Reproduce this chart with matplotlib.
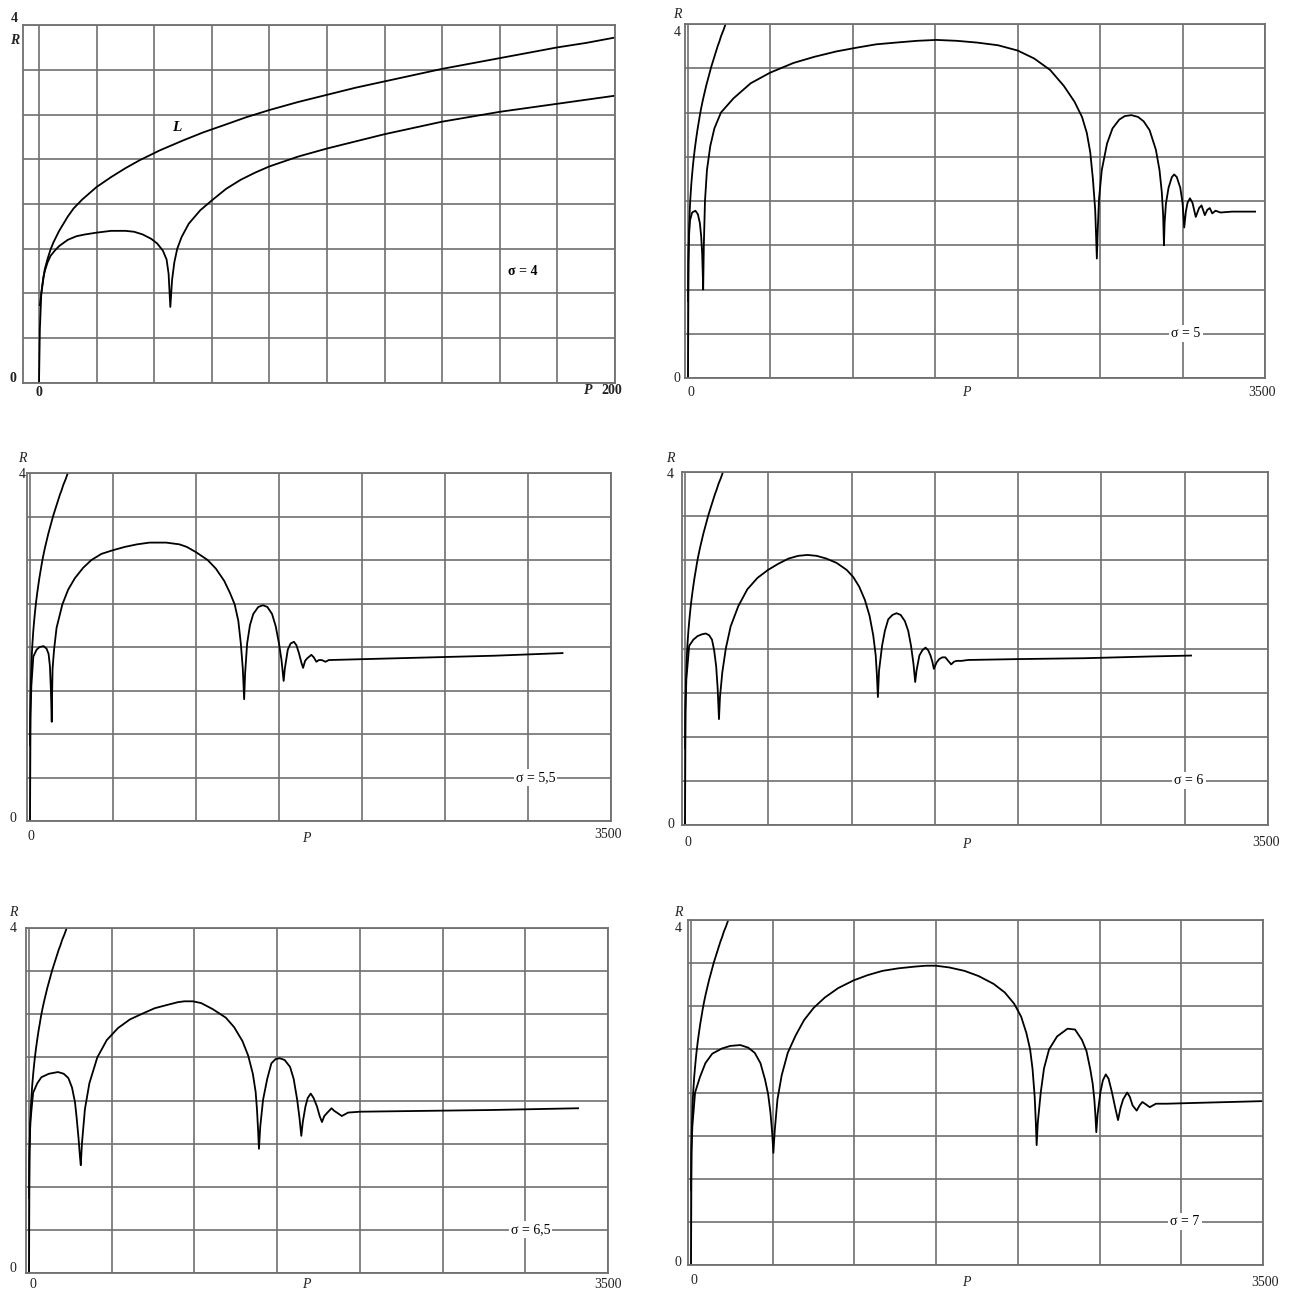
import numpy as np
import matplotlib.pyplot as plt

plt.rcParams['font.family'] = ['Liberation Serif', 'DejaVu Serif']

W, H = 1299, 1293

# curve L, the same in every panel (P, R)
curve_L = [(0.3, 0.87), (1, 1.05), (2, 1.27), (3, 1.39), (4, 1.49), (5, 1.57), (7, 1.70), (10, 1.86),
           (12, 1.95), (15, 2.05), (20, 2.19), (25, 2.30), (30, 2.40), (35, 2.49), (42, 2.60),
           (50, 2.71), (57, 2.80), (65, 2.89), (72, 2.97), (80, 3.05), (90, 3.14), (100, 3.22),
           (110, 3.30), (120, 3.37), (130, 3.44), (140, 3.51), (150, 3.57), (160, 3.63), (170, 3.69),
           (180, 3.75), (190, 3.80), (200, 3.86), (215, 3.93), (228, 4.0), (245, 4.07)]

# sigma = 4 (P up to 200)
curve_s4 = [(0, 0), (0.3, 0.6), (0.8, 1.0), (1.5, 1.18), (2, 1.25), (3, 1.35), (4, 1.42), (5.5, 1.48),
            (7, 1.53), (10, 1.60), (13, 1.64), (16, 1.66), (20, 1.68), (25, 1.70), (30, 1.70),
            (33, 1.69), (36, 1.66), (39, 1.61), (41, 1.56), (43, 1.48), (44.3, 1.38), (45, 1.22),
            (45.6, 0.85), (46.2, 1.15), (47, 1.35), (48, 1.5), (49.5, 1.63), (52, 1.78), (56, 1.93),
            (60, 2.04), (65, 2.17), (70, 2.27), (75, 2.35), (80, 2.42), (90, 2.53), (100, 2.62),
            (110, 2.70), (120, 2.78), (140, 2.92), (160, 3.03), (180, 3.12), (200, 3.21)]

curve_s5 = [(0, 0), (3, 1.3), (6, 1.6), (12, 1.78), (25, 1.87), (45, 1.89), (60, 1.85), (72, 1.75),
            (80, 1.60), (86, 1.40), (90, 1.15), (92, 1.0), (96, 1.5), (103, 2.0), (115, 2.35),
            (135, 2.62), (160, 2.82), (200, 3.0), (276, 3.16), (380, 3.33), (498, 3.45), (640, 3.56),
            (768, 3.63), (900, 3.69), (1015, 3.73), (1140, 3.77), (1261, 3.79), (1390, 3.81),
            (1507, 3.82), (1630, 3.81), (1754, 3.79), (1880, 3.76), (2000, 3.70), (2100, 3.61),
            (2197, 3.48), (2280, 3.30), (2345, 3.12), (2390, 2.95), (2419, 2.77), (2440, 2.55),
            (2456, 2.25), (2470, 1.9), (2480, 1.35), (2486, 1.7), (2493, 2.02), (2510, 2.35),
            (2542, 2.65), (2575, 2.82), (2616, 2.92), (2650, 2.96), (2690, 2.97), (2730, 2.95),
            (2764, 2.90), (2800, 2.80), (2838, 2.58), (2860, 2.35), (2874, 2.10), (2882, 1.85),
            (2887, 1.50), (2891, 1.75), (2899, 1.97), (2915, 2.15), (2935, 2.27), (2949, 2.30),
            (2965, 2.27), (2986, 2.15), (3000, 1.98), (3010, 1.70), (3020, 1.88), (3030, 1.98),
            (3045, 2.03), (3060, 1.98), (3080, 1.82), (3100, 1.92), (3115, 1.95), (3135, 1.84),
            (3150, 1.90), (3165, 1.92), (3180, 1.86), (3200, 1.89), (3230, 1.87), (3300, 1.88),
            (3440, 1.88)]

curve_s55 = [(0, 0), (3, 1.2), (8, 1.55), (20, 1.89), (40, 1.97), (58, 2.0), (82, 2.01), (100, 1.98),
             (112, 1.92), (120, 1.78), (126, 1.5), (131, 1.14), (133, 1.45), (136, 1.75), (145, 1.97),
             (160, 2.22), (195, 2.49), (230, 2.66), (270, 2.79), (320, 2.91), (370, 3.0), (430, 3.07),
             (495, 3.11), (570, 3.15), (645, 3.18), (720, 3.20), (820, 3.20), (900, 3.18), (945, 3.15),
             (1000, 3.09), (1070, 3.0), (1120, 2.90), (1170, 2.76), (1205, 2.62), (1233, 2.49),
             (1255, 2.30), (1270, 2.04), (1282, 1.75), (1290, 1.40), (1296, 1.70), (1308, 2.04),
             (1325, 2.25), (1345, 2.38), (1375, 2.46), (1403, 2.48), (1430, 2.46), (1458, 2.38),
             (1480, 2.24), (1500, 2.04), (1515, 1.85), (1528, 1.61), (1535, 1.75), (1553, 1.97),
             (1570, 2.04), (1590, 2.06), (1605, 2.02), (1620, 1.93), (1635, 1.82), (1645, 1.76),
             (1657, 1.84), (1670, 1.87), (1695, 1.91), (1710, 1.88), (1725, 1.83), (1740, 1.85),
             (1758, 1.85), (1780, 1.83), (1800, 1.85), (2000, 1.86), (2400, 1.88), (2800, 1.90),
             (3208, 1.93)]

curve_s6 = [(0, 0), (3, 1.3), (8, 1.65), (25, 2.03), (50, 2.10), (75, 2.14), (100, 2.16), (125, 2.17),
            (145, 2.15), (162, 2.10), (175, 1.98), (187, 1.80), (196, 1.55), (204, 1.20), (210, 1.45),
            (224, 1.73), (245, 2.0), (274, 2.25), (320, 2.48), (374, 2.67), (435, 2.80), (498, 2.89),
            (560, 2.96), (623, 3.02), (680, 3.05), (735, 3.06), (790, 3.05), (847, 3.02), (910, 2.97),
            (971, 2.89), (1010, 2.81), (1046, 2.70), (1080, 2.55), (1108, 2.37), (1130, 2.15),
            (1145, 1.92), (1152, 1.70), (1158, 1.45), (1165, 1.75), (1183, 2.03), (1200, 2.20),
            (1220, 2.33), (1245, 2.38), (1270, 2.40), (1295, 2.38), (1320, 2.31), (1340, 2.20),
            (1357, 2.03), (1372, 1.82), (1382, 1.62), (1390, 1.75), (1407, 1.92), (1425, 1.98),
            (1444, 2.01), (1460, 1.98), (1474, 1.92), (1485, 1.85), (1494, 1.77), (1510, 1.84),
            (1526, 1.88), (1545, 1.90), (1563, 1.90), (1580, 1.86), (1598, 1.82), (1615, 1.85),
            (1631, 1.86), (1660, 1.86), (1700, 1.87), (2000, 1.88), (2400, 1.89), (2800, 1.91),
            (3038, 1.92)]

curve_s65 = [(0, 0), (3, 1.4), (8, 1.75), (25, 2.09), (50, 2.20), (75, 2.27), (120, 2.31), (175, 2.33),
             (210, 2.31), (238, 2.26), (260, 2.15), (278, 1.98), (288, 1.80), (300, 1.55), (308, 1.35),
             (313, 1.25), (320, 1.50), (338, 1.90), (365, 2.20), (413, 2.50), (470, 2.70), (538, 2.84),
             (610, 2.94), (689, 3.01), (760, 3.07), (839, 3.11), (900, 3.14), (939, 3.15), (990, 3.15),
             (1040, 3.13), (1110, 3.06), (1190, 2.96), (1240, 2.85), (1290, 2.69), (1325, 2.52),
             (1353, 2.31), (1370, 2.10), (1378, 1.90), (1385, 1.65), (1390, 1.44), (1398, 1.70),
             (1415, 2.01), (1440, 2.25), (1465, 2.43), (1490, 2.48), (1515, 2.49), (1545, 2.47),
             (1578, 2.39), (1600, 2.25), (1621, 2.01), (1635, 1.80), (1646, 1.59), (1655, 1.75),
             (1671, 1.93), (1685, 2.03), (1703, 2.08), (1720, 2.03), (1741, 1.93), (1757, 1.82),
             (1771, 1.75), (1785, 1.82), (1804, 1.86), (1829, 1.91), (1845, 1.88), (1861, 1.86),
             (1891, 1.82), (1929, 1.86), (2000, 1.87), (2400, 1.88), (2800, 1.89), (3319, 1.91)]

curve_s7 = [(0, 0), (3, 1.3), (8, 1.6), (25, 2.0), (55, 2.18), (88, 2.34), (130, 2.45), (189, 2.51),
            (240, 2.54), (302, 2.55), (350, 2.52), (390, 2.46), (425, 2.34), (453, 2.15), (472, 1.98),
            (486, 1.77), (496, 1.55), (504, 1.30), (512, 1.55), (529, 1.92), (555, 2.20), (592, 2.46),
            (640, 2.66), (692, 2.84), (750, 2.98), (818, 3.10), (900, 3.21), (995, 3.30), (1080, 3.36),
            (1171, 3.41), (1270, 3.44), (1372, 3.46), (1440, 3.47), (1498, 3.47), (1580, 3.45),
            (1674, 3.41), (1760, 3.35), (1851, 3.26), (1920, 3.16), (1977, 3.03), (2020, 2.88),
            (2052, 2.69), (2075, 2.50), (2090, 2.27), (2103, 1.95), (2110, 1.65), (2115, 1.39),
            (2122, 1.65), (2140, 2.0), (2160, 2.28), (2191, 2.50), (2240, 2.65), (2304, 2.74),
            (2350, 2.73), (2392, 2.61), (2420, 2.48), (2443, 2.27), (2458, 2.10), (2468, 1.92),
            (2475, 1.72), (2480, 1.54), (2488, 1.75), (2505, 2.0), (2520, 2.14), (2538, 2.21),
            (2555, 2.16), (2576, 2.0), (2595, 1.83), (2613, 1.68), (2628, 1.82), (2644, 1.92),
            (2669, 2.0), (2685, 1.95), (2702, 1.85), (2727, 1.79), (2745, 1.85), (2762, 1.89),
            (2785, 1.86), (2807, 1.83), (2845, 1.87), (2908, 1.87), (3100, 1.88), (3300, 1.89),
            (3500, 1.90)]

sigma_labels = ['σ = 4', 'σ = 5', 'σ = 5,5', 'σ = 6', 'σ = 6,5', 'σ = 7']
sigma_pos = [(168, 1.25), (3020, 0.5), (3045, 0.5), (3025, 0.5), (3031, 0.5), (3022, 0.5)]
curves = [curve_s4, curve_s5, curve_s55, curve_s6, curve_s65, curve_s7]
x_max = [200, 3500, 3500, 3500, 3500, 3500]

# frame boxes in pixels: left, top, right, bottom, pixel of P = 0
frames = [(23, 25, 615, 383, 39), (685, 24, 1265, 378, 688), (27, 473, 611, 821, 30),
          (682, 472, 1268, 825, 685), (26, 928, 608, 1273, 29), (688, 920, 1263, 1265, 691)]

# axis label positions in pixels: R, 4, 0 (y), 0 (x), P, right end
label_px = [
    [(15, 40), (14, 19), (13, 378), (39, 393), (588, 391), (612, 391)],
    [(677, 14), (677, 32), (677, 378), (691, 392), (966, 392), (1262, 392)],
    [(22, 458), (22, 474), (13, 818), (31, 836), (306, 838), (608, 835)],
    [(670, 458), (670, 475), (671, 825), (688, 842), (966, 845), (1266, 842)],
    [(13, 913), (13, 929), (13, 1268), (33, 1285), (306, 1285), (608, 1285)],
    [(678, 912), (678, 928), (678, 1262), (694, 1281), (966, 1283), (1265, 1282)],
]

grid_c = '#707070'

fig = plt.figure(figsize=(W / 100, H / 100), dpi=100)

for i in range(6):
    l, t, r, b, x0 = frames[i]
    ax = fig.add_axes([l / W, 1 - b / H, (r - l) / W, (b - t) / H])
    xm = x_max[i]
    left = -(x0 - l) / (r - x0) * xm
    ax.set_xlim(left, xm)
    ax.set_ylim(0, 4)
    step = xm / 10 if xm == 200 else 500
    ax.set_xticks(np.arange(0, xm + 1, step))
    ax.set_yticks(np.arange(0, 4.01, 0.5))
    ax.tick_params(length=0, labelbottom=False, labelleft=False)
    ax.grid(True, color=grid_c, lw=1.2)
    for s in ax.spines.values():
        s.set_color(grid_c)
        s.set_linewidth(1.3)

    pl, rl = np.array(curve_L).T
    ax.plot(pl, rl, color='black', lw=1.3)
    p, rv = np.array(curves[i]).T
    ax.plot(p, rv, color='black', lw=1.3)

    bold = 'bold' if i == 0 else 'normal'
    sx, sy = sigma_pos[i]
    ax.text(sx, sy, sigma_labels[i], ha='center', va='center', fontsize=10, fontweight=bold,
            bbox=dict(facecolor='white', edgecolor='none', pad=1.5))
    if i == 0:
        ax.text(48, 2.85, 'L', ha='center', va='center', fontsize=11, fontweight='bold', style='italic')

    lab = label_px[i]
    texts = ['R', '4', '0', '0', 'P', str(xm)]
    for k, (px, py) in enumerate(lab):
        it = 'italic' if texts[k] in ('R', 'P') else 'normal'
        fig.text(px / W, 1 - py / H, texts[k], ha='center', va='center', fontsize=10,
                 style=it, fontweight=bold, color='#222222')

fig.savefig('out.png', dpi=100, facecolor='white')
